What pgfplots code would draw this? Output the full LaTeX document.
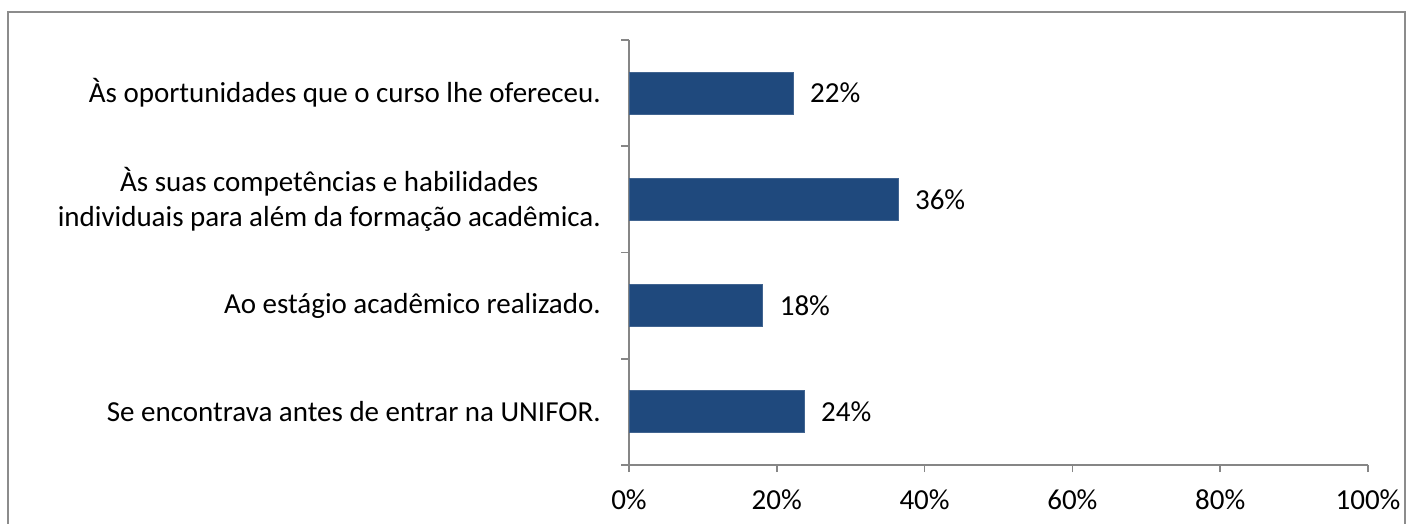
\documentclass[border=0pt]{standalone}
\usepackage{pgfplots}
\pgfplotsset{compat=1.18}
\usepackage{fontspec}
\setmainfont{Carlito}
\definecolor{barblue}{HTML}{1F497D}
\definecolor{axgray}{HTML}{868686}
\definecolor{framegray}{HTML}{8C8C8C}
\begin{document}
\fontsize{14.5}{17.7}\selectfont
\begin{tikzpicture}
\useasboundingbox (0,0) rectangle (703.5pt,-262pt);
\begin{scope}
\clip (0,0) rectangle (703.5pt,-262pt);
\draw[framegray, line width=1pt] (4pt,-6pt) rectangle (702.5pt,-300pt);
\end{scope}
\begin{axis}[
  at={(314.5pt,-232.5pt)}, anchor=south west,
  scale only axis, width=369.5pt, height=212.5pt,
  xmin=0, xmax=100, ymin=-0.5, ymax=3.5,
  axis x line*=bottom, axis y line*=left,
  axis line style={axgray, line width=0.8pt},
  /pgf/number format/assume math mode=true,
  xbar, bar width=21pt,
  xtick={0,20,40,60,80,100},
  xticklabels={0\%,20\%,40\%,60\%,80\%,100\%},
  ytick={0,1,2,3},
  yticklabels={Se encontrava antes de entrar na UNIFOR.,
    Ao estágio acadêmico realizado.,
    {Às suas competências e habilidades\\individuais para além da formação acadêmica.},
    Às oportunidades que o curso lhe ofereceu.},
  minor ytick={-0.5,0.5,1.5,2.5,3.5},
  tick align=outside,
  major tick length=3.5pt, minor tick length=4pt,
  major y tick style={draw=none},
  tick style={axgray, line width=0.8pt},
  yticklabel style={align=center, font=\fontsize{14.5}{17.7}\selectfont, xshift=-5.6pt},
  xticklabel style={font=\fontsize{14.5}{17.7}\selectfont, yshift=-4pt},
  nodes near coords={\pgfmathprintnumber[fixed,precision=0]{\pgfplotspointmeta}\%},
  nodes near coords style={anchor=west, xshift=3.5pt, font=\fontsize{14.5}{17.7}\selectfont, text=black},
  clip=false,
]
\addplot[fill=barblue, draw=barblue!85!white] coordinates {
  (23.7,0) (18.1,1) (36.4,2) (22.2,3)
};
\end{axis}
\end{tikzpicture}
\end{document}
